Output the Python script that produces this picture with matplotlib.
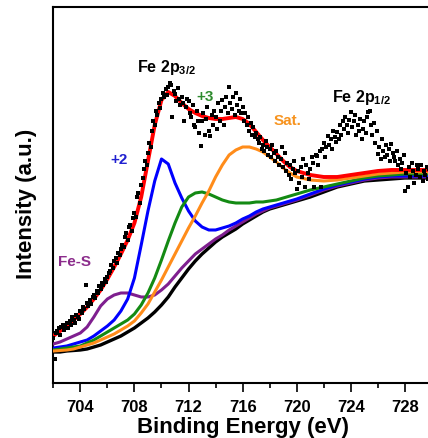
import numpy as np
import matplotlib
matplotlib.use('Agg')
import matplotlib.pyplot as plt
from matplotlib.ticker import MultipleLocator

plt.rcParams['font.family'] = ['Liberation Sans', 'DejaVu Sans']
plt.rcParams['mathtext.fontset'] = 'custom'
plt.rcParams['mathtext.rm'] = 'Liberation Sans:bold'
plt.rcParams['mathtext.it'] = 'Liberation Sans:bold'
plt.rcParams['mathtext.bf'] = 'Liberation Sans:bold'

# binding energy grid of the fitted curves (eV)
fit_energy = [702, 702.5, 703, 703.5, 704, 704.5, 705, 705.5, 706, 706.5,
              707, 707.5, 708, 708.5, 709, 709.5, 710, 710.5, 711, 711.5,
              712, 712.5, 713, 713.5, 714, 714.5, 715, 715.5, 716, 716.5,
              717, 717.5, 718, 718.5, 719, 719.5, 720, 721, 722, 723,
              724, 725, 726, 727, 728, 729, 730]

# Shirley-type background
background = [31, 31, 32, 32.5, 33, 34, 36, 38, 41, 44,
              47, 51, 55, 60, 65, 71, 78, 86, 96, 105,
              114, 122, 129, 135, 141, 146, 150, 154, 159, 163,
              167, 171, 174, 176, 178, 180, 182, 186, 191, 196,
              199, 202, 203, 204, 205, 205, 205]

# Fe-S component
fes = [39, 41, 44, 47, 50, 56, 66, 77, 84, 88,
       90, 90, 88, 86, 86, 88, 93, 99, 107, 115,
       122, 129, 134, 139, 144, 148, 153, 157, 161, 165,
       169, 172, 175, 177, 179, 181, 183, 188, 193, 197,
       200, 203, 205, 206, 206, 206, 206]

# Fe2+ component
fe2 = [35, 36, 37, 39, 41, 43, 47, 52, 57, 63,
       72, 84, 105, 138, 172, 202, 224, 219, 200, 185,
       172, 162, 156, 153, 153, 155, 157, 160, 164, 167,
       171, 174, 176, 178, 180, 182, 184, 189, 194, 198,
       201, 204, 206, 207, 207, 207, 207]

# Fe3+ component
fe3 = [33, 34, 35, 36, 37, 40, 43, 47, 51, 55,
       59, 63, 69, 78, 90, 105, 123, 142, 160, 176,
       186, 190, 191, 189, 186, 183, 181, 180, 180, 180,
       181, 181, 182, 183, 185, 187, 189, 193, 196, 199,
       202, 205, 207, 208, 209, 209, 209]

# satellite component
sat = [32, 32.5, 33, 34, 36, 38, 40, 43, 46, 49,
       53, 57, 62, 70, 79, 91, 103, 116, 129, 142,
       155, 167, 180, 192, 206, 218, 228, 233, 236, 236,
       234, 231, 226, 221, 215, 210, 206, 203, 202, 203,
       205, 207, 209, 210, 211, 211, 211]

# envelope
envelope = [47, 52, 57, 63, 69, 76, 84, 93, 104, 116,
            129, 143, 160, 186, 222, 258, 283, 291, 287, 280,
            274, 270, 267, 265, 264, 264, 265, 266, 264, 259,
            251, 243, 236, 229, 222, 216, 212, 208, 206, 206,
            208, 210, 212, 213, 213, 213, 213]

# measured spectrum, 0.1 eV steps from 702.0 to 730.0
raw_energy = np.round(np.linspace(702, 730, 281), 1)
raw_counts = [
    45, 24, 50, 52, 55, 48, 56, 58, 53, 57,
    60, 55, 62, 58, 66, 63, 60, 68, 66, 64,
    72, 70, 76, 74, 98, 80, 77, 83, 79, 86,
    88, 85, 92, 90, 97, 94, 100, 98, 104, 101,
    106, 110, 112, 118, 115, 122, 125, 120, 130, 128,
    134, 138, 136, 146, 150, 143, 156, 158, 152, 165,
    170, 166, 186, 190, 180, 198, 205, 214, 222, 218,
    230, 240, 236, 252, 262, 258, 272, 268, 280, 275,
    284, 290, 286, 294, 288, 296, 300, 298, 266, 292,
    289, 282, 295, 284, 278, 286, 280, 262, 276, 284,
    282, 270, 266, 278, 258, 256, 272, 262, 250, 237,
    262, 270, 248, 264, 276, 252, 247, 268, 258, 272,
    266, 254, 280, 262, 272, 283, 258, 276, 286, 270,
    296, 280, 274, 286, 268, 290, 278, 272, 284, 270,
    276, 262, 270, 258, 266, 252, 260, 248, 256, 246,
    250, 244, 240, 246, 234, 238, 232, 242, 236, 228,
    234, 226, 238, 230, 222, 232, 226, 218, 224, 236,
    216, 230, 212, 220, 208, 218, 204, 214, 222, 210,
    194, 212, 200, 216, 206, 224, 196, 218, 210, 204,
    214, 226, 220, 196, 228, 227, 218, 232, 196, 234,
    240, 226, 236, 247, 238, 244, 234, 252, 246, 241,
    251, 244, 258, 248, 262, 254, 266, 258, 250, 263,
    271, 256, 262, 268, 248, 258, 252, 264, 244, 254,
    262, 250, 266, 271, 272, 258, 248, 260, 240, 252,
    229, 236, 224, 244, 232, 226, 238, 228, 234, 222,
    239, 230, 226, 222, 232, 218, 224, 214, 220, 228,
    192, 210, 196, 216, 206, 220, 212, 200, 208, 218,
    214, 206, 218, 202, 212, 208, 216, 204, 214, 210,
    212,
]

fig = plt.figure(figsize=(4.28, 4.39), dpi=100)
ax = fig.add_axes([0.1245, 0.1253, 0.8848, 0.8565])

ax.plot(fit_energy, background, color='black', lw=2.4, zorder=2)
ax.plot(fit_energy, fes, color='#7f1f8f', lw=2.2, zorder=3)
ax.plot(fit_energy, fe2, color='#0000ff', lw=2.2, zorder=4)
ax.plot(fit_energy, fe3, color='#138a13', lw=2.2, zorder=5)
ax.plot(fit_energy, sat, color='#ff8c1a', lw=2.2, zorder=6)
ax.plot(fit_energy, envelope, color='#ff0000', lw=2.8, zorder=7)
ax.scatter(raw_energy, raw_counts, s=6, marker='s', color='black',
           linewidths=0, zorder=8)

ax.set_xlim(702, 730)
ax.set_ylim(0, 376)
ax.set_yticks([])
ax.xaxis.set_minor_locator(MultipleLocator(2))
ax.set_xticks([704, 708, 712, 716, 720, 724, 728])
ax.tick_params(axis='x', which='major', direction='out', length=6.5,
               width=1.2, labelsize=12, pad=5)
ax.tick_params(axis='x', which='minor', direction='out', length=3.5, width=1.2)
for lab in ax.get_xticklabels():
    lab.set_fontweight('bold')
for sp in ax.spines.values():
    sp.set_linewidth(1.5)

# labels
fig.text(243 / 428, 1 - 428 / 439, 'Binding Energy (eV)', fontsize=16,
         fontweight='bold', ha='center', va='center')
fig.text(27 / 428, 1 - 204 / 439, 'Intensity (a.u.)', fontsize=16,
         fontweight='bold', ha='center', va='center', rotation=90)

# peak annotations
ax.text(708.2, 312, 'Fe 2p$_{3/2}$', fontsize=11.5, fontweight='bold', va='baseline')
ax.text(722.6, 282, 'Fe 2p$_{1/2}$', fontsize=11.5, fontweight='bold', va='baseline')
ax.text(713.2, 287, '+3', fontsize=11, fontweight='bold', color='#2e8b2e',
        ha='center', va='center')
ax.text(719.3, 263, 'Sat.', fontsize=11, fontweight='bold', color='#f7931e',
        ha='center', va='center')
ax.text(706.9, 224, '+2', fontsize=11, fontweight='bold', color='#2020d0',
        ha='center', va='center')
ax.text(703.6, 122, 'Fe-S', fontsize=11, fontweight='bold', color='#8b2b8b',
        ha='center', va='center')

fig.savefig('out.png', dpi=100)
